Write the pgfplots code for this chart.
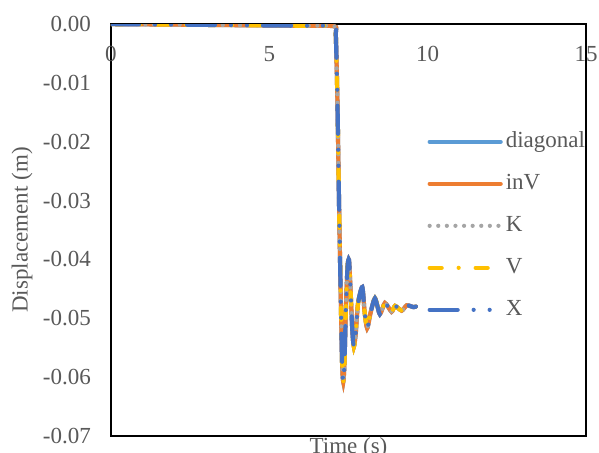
\documentclass[border=0pt]{standalone}
\usepackage{pgfplots}
\pgfplotsset{compat=1.18}
\usepackage{pgfplotstable}
\usepackage{fontspec}
\setmainfont{Liberation Serif}
\definecolor{txt}{HTML}{595959}
\definecolor{cdiag}{HTML}{5B9BD5}
\definecolor{cinv}{HTML}{ED7D31}
\definecolor{ck}{HTML}{A5A5A5}
\definecolor{cv}{HTML}{FFC000}
\definecolor{cx}{HTML}{4472C4}
\pgfplotstableread{
t d
0 -0.00002
2 -0.0001
4 -0.0002
6 -0.0003
7.05 -0.0004
7.1 -0.002
7.15 -0.013
7.2 -0.03
7.25 -0.045
7.3 -0.058
7.335 -0.0608
7.37 -0.058
7.42 -0.048
7.47 -0.0412
7.515 -0.0401
7.56 -0.0445
7.62 -0.052
7.67 -0.0548
7.73 -0.0525
7.8 -0.0475
7.935 -0.0447
8.01 -0.049
8.09 -0.0517
8.2 -0.049
8.336 -0.0466
8.49 -0.0493
8.65 -0.0474
8.86 -0.0489
8.97 -0.0479
9.18 -0.0487
9.34 -0.0478
9.55 -0.0481
9.63 -0.0480
}\datatable
\begin{document}
\fontsize{23}{27}\selectfont
\begin{tikzpicture}
\useasboundingbox (-111pt,-16pt) rectangle (488pt,436pt);
\begin{axis}[
  scale only axis, width=475pt, height=412pt,
  at={(0,0)}, anchor=south west,
  xmin=0, xmax=15, ymin=-0.07, ymax=0,
  xtick={0,5,10,15}, ytick={-0.07,-0.06,...,0},
  scaled y ticks=false,
  major tick length=0pt,
  axis line style={black, line width=1.3pt},
  font=\fontsize{23}{27}\selectfont,
  tick label style={text=txt},
  /pgf/number format/assume math mode=true,
  yticklabel style={/pgf/number format/fixed, /pgf/number format/fixed zerofill, /pgf/number format/precision=2, anchor=east, inner sep=0pt, xshift=-20pt},
  xticklabel pos=upper,
  xticklabel style={anchor=north, inner sep=0pt, yshift=-22pt},
  xlabel={Time (s)}, ylabel={Displacement (m)},
  label style={text=txt},
  xlabel style={at={(axis description cs:0.5,0)}, anchor=north, inner sep=0pt, yshift=-1pt},
  ylabel style={at={(axis description cs:-0.187,0.5)}, anchor=center},
  legend style={draw=none, fill=none, at={(axis description cs:0.666,0.74)}, anchor=north west,
    inner sep=0pt, row sep=21pt, column sep=3pt, text=txt,
    nodes={inner sep=0pt, text height=16pt, text depth=5pt}},
  legend cell align=left,
  legend image code/.code={\draw[#1] (0pt,0pt) -- (71pt,0pt);},
  every axis plot/.append style={line width=4.2pt},
]
\addplot[cdiag, solid, line cap=round, smooth, tension=0.4] table[x=t,y=d] {\datatable};
\addlegendentry{diagonal}
\addplot[cinv, solid, line cap=round, smooth, tension=0.4] table[x=t,y=d] {\datatable};
\addlegendentry{inV}
\addplot[ck, line cap=round, dash pattern=on 0pt off 8.6pt, smooth, tension=0.4] table[x=t,y=d] {\datatable};
\addlegendentry{K}
\addplot[cv, line cap=round, dash pattern=on 12pt off 17pt on 0pt off 17pt, smooth, tension=0.4] table[x=t,y=d] {\datatable};
\addlegendentry{V}
\addplot[cx, line cap=round, dash pattern=on 28pt off 16pt on 0pt off 16pt on 0pt off 16pt, smooth, tension=0.4] table[x=t,y=d] {\datatable};
\addlegendentry{X}
\end{axis}
\end{tikzpicture}
\end{document}
